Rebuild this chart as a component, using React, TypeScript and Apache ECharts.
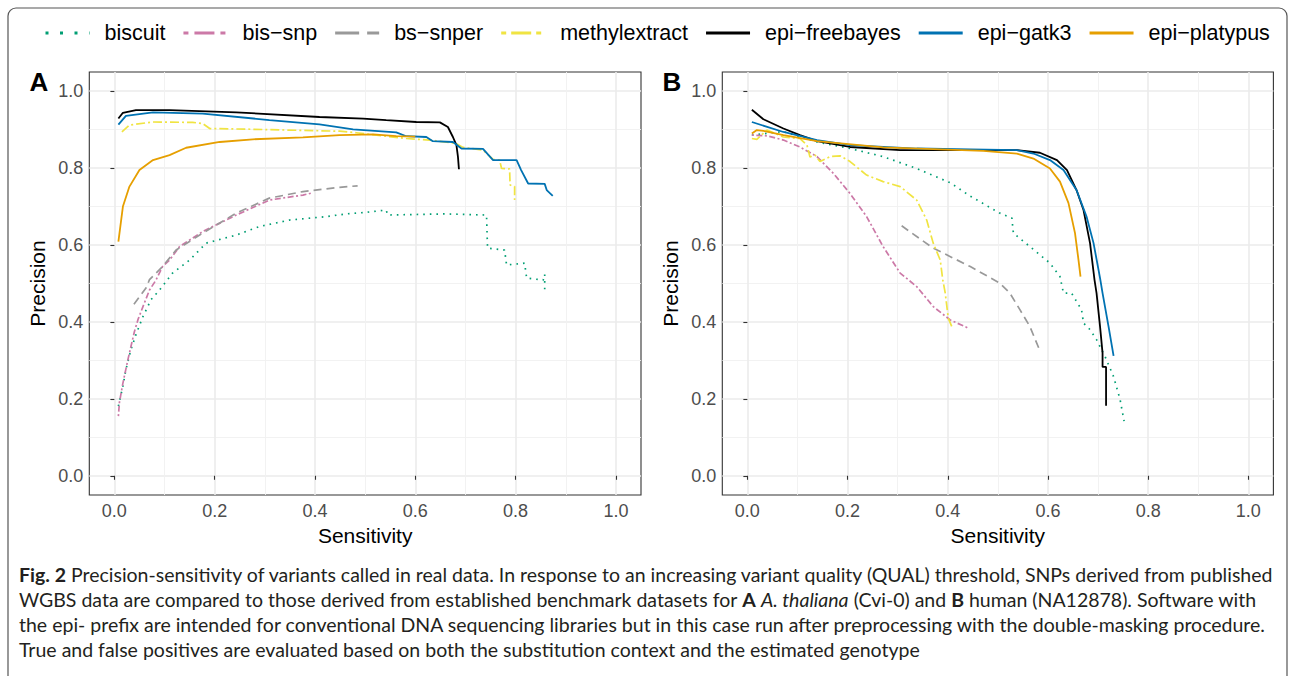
import React, { useEffect, useRef } from 'react';
import * as echarts from 'echarts';

const FONT = '"Liberation Sans", Arial, sans-serif';
const CAP_FONT = 'Lato, "Liberation Sans", sans-serif';

const seriesNames = ['biscuit', 'bis−snp', 'bs−snper', 'methylextract', 'epi−freebayes', 'epi−gatk3', 'epi−platypus'];
const seriesColors = ['#009E73', '#CC79A7', '#999999', '#F0E442', '#000000', '#0072B2', '#E69F00'];
const majorTicks = [0, 0.2, 0.4, 0.6, 0.8, 1.0];
const minorTicks = [0.1, 0.3, 0.5, 0.7, 0.9];

// Panel A (A. thaliana) : [sensitivity, precision]
const A_biscuit = [[0.008,0.181],[0.017,0.233],[0.023,0.276],[0.033,0.328],[0.043,0.367],[0.057,0.414],[0.073,0.458],[0.09,0.483],[0.116,0.527],[0.15,0.561],[0.183,0.605],[0.243,0.626],[0.289,0.648],[0.349,0.665],[0.423,0.674],[0.462,0.681],[0.502,0.685],[0.542,0.691],[0.545,0.678],[0.662,0.681],[0.742,0.678],[0.744,0.592],[0.778,0.587],[0.782,0.548],[0.818,0.553],[0.822,0.514],[0.855,0.509],[0.858,0.524],[0.858,0.482]];
const A_bissnp = [[0.008,0.155],[0.01,0.19],[0.017,0.241],[0.027,0.302],[0.033,0.336],[0.04,0.375],[0.047,0.406],[0.057,0.44],[0.07,0.483],[0.083,0.509],[0.096,0.544],[0.11,0.561],[0.13,0.596],[0.176,0.635],[0.243,0.678],[0.309,0.717],[0.376,0.73],[0.393,0.735]];
const A_bssnper = [[0.039,0.446],[0.063,0.488],[0.07,0.51],[0.096,0.544],[0.123,0.587],[0.176,0.631],[0.243,0.683],[0.309,0.722],[0.376,0.739],[0.449,0.75],[0.485,0.754]];
const A_methyl = [[0.015,0.894],[0.03,0.912],[0.077,0.92],[0.156,0.919],[0.176,0.916],[0.19,0.903],[0.276,0.901],[0.449,0.896],[0.482,0.892],[0.582,0.877],[0.629,0.873],[0.682,0.864],[0.695,0.854],[0.735,0.847],[0.755,0.823],[0.768,0.821],[0.772,0.799],[0.788,0.798],[0.789,0.756],[0.798,0.752],[0.798,0.717]];
const A_freebayes = [[0.008,0.929],[0.017,0.944],[0.043,0.951],[0.11,0.951],[0.243,0.945],[0.409,0.933],[0.496,0.929],[0.542,0.925],[0.602,0.92],[0.649,0.919],[0.665,0.907],[0.675,0.881],[0.682,0.86],[0.685,0.83],[0.687,0.797]];
const A_gatk3 = [[0.008,0.913],[0.023,0.936],[0.077,0.945],[0.176,0.942],[0.309,0.925],[0.409,0.914],[0.476,0.901],[0.562,0.893],[0.582,0.883],[0.622,0.881],[0.635,0.87],[0.675,0.868],[0.692,0.851],[0.735,0.85],[0.755,0.821],[0.802,0.821],[0.811,0.795],[0.825,0.76],[0.858,0.759],[0.862,0.743],[0.874,0.728]];
const A_platypus = [[0.008,0.609],[0.017,0.7],[0.03,0.752],[0.05,0.795],[0.077,0.821],[0.11,0.834],[0.143,0.853],[0.21,0.868],[0.276,0.875],[0.376,0.88],[0.449,0.886],[0.516,0.888],[0.562,0.883],[0.6,0.882]];

// Panel B (human)
const B_biscuit = [[0.009,0.886],[0.072,0.895],[0.139,0.868],[0.205,0.851],[0.271,0.83],[0.338,0.799],[0.405,0.762],[0.445,0.727],[0.504,0.683],[0.528,0.67],[0.531,0.631],[0.564,0.596],[0.604,0.553],[0.624,0.518],[0.631,0.475],[0.647,0.475],[0.667,0.432],[0.671,0.397],[0.684,0.38],[0.697,0.354],[0.714,0.31],[0.731,0.258],[0.744,0.198],[0.752,0.142]];
const B_bissnp = [[0.009,0.886],[0.039,0.884],[0.072,0.873],[0.105,0.855],[0.139,0.83],[0.172,0.786],[0.205,0.734],[0.238,0.674],[0.271,0.596],[0.305,0.527],[0.338,0.492],[0.371,0.44],[0.405,0.405],[0.441,0.384]];
const B_bssnper = [[0.308,0.65],[0.371,0.592],[0.445,0.544],[0.504,0.501],[0.524,0.475],[0.544,0.432],[0.564,0.388],[0.583,0.328]];
const B_methyl = [[0.009,0.877],[0.019,0.875],[0.039,0.899],[0.072,0.881],[0.105,0.877],[0.119,0.86],[0.125,0.829],[0.135,0.834],[0.145,0.817],[0.165,0.83],[0.185,0.832],[0.205,0.817],[0.238,0.782],[0.271,0.765],[0.305,0.752],[0.338,0.717],[0.358,0.665],[0.371,0.605],[0.385,0.561],[0.39,0.51],[0.395,0.475],[0.401,0.41],[0.408,0.388]];
const B_freebayes = [[0.009,0.952],[0.032,0.927],[0.072,0.903],[0.105,0.886],[0.139,0.87],[0.205,0.855],[0.305,0.847],[0.445,0.847],[0.538,0.847],[0.584,0.84],[0.618,0.821],[0.638,0.795],[0.657,0.743],[0.671,0.691],[0.684,0.605],[0.693,0.509],[0.697,0.475],[0.704,0.388],[0.709,0.319],[0.709,0.283],[0.716,0.283],[0.716,0.182]];
const B_gatk3 = [[0.009,0.92],[0.072,0.894],[0.139,0.873],[0.205,0.86],[0.338,0.851],[0.445,0.849],[0.538,0.847],[0.571,0.838],[0.604,0.821],[0.631,0.795],[0.657,0.743],[0.677,0.674],[0.691,0.605],[0.704,0.514],[0.709,0.475],[0.721,0.388],[0.731,0.312]];
const B_platypus = [[0.009,0.89],[0.019,0.899],[0.032,0.897],[0.072,0.886],[0.139,0.87],[0.271,0.854],[0.471,0.845],[0.538,0.838],[0.571,0.825],[0.604,0.799],[0.624,0.765],[0.641,0.709],[0.654,0.631],[0.661,0.561],[0.665,0.518]];

const panelA = [A_biscuit, A_bissnp, A_bssnper, A_methyl, A_freebayes, A_gatk3, A_platypus];
const panelB = [B_biscuit, B_bissnp, B_bssnper, B_methyl, B_freebayes, B_gatk3, B_platypus];

const plotDash: any[] = [[1.6, 5], [2, 2.5, 6, 2.5], [8, 5], [9, 3, 2, 3], 'solid', 'solid', 'solid'];
const legendDash: any[] = [[3, 11.5], [5, 6, 20, 6], [24, 8], [5, 5, 20, 5], 'solid', 'solid', 'solid'];

const captionLines = [
  '{b|Fig. 2} Precision-sensitivity of variants called in real data. In response to an increasing variant quality (QUAL) threshold, SNPs derived from published',
  'WGBS data are compared to those derived from established benchmark datasets for {b|A} {i|A. thaliana} (Cvi-0) and {b|B} human (NA12878). Software with',
  'the epi- prefix are intended for conventional DNA sequencing libraries but in this case run after preprocessing with the double-masking procedure.',
  'True and false positives are evaluated based on both the substitution context and the estimated genotype',
];

function xAxes(gridIndex: number) {
  return [
    {
      type: 'value', gridIndex, min: -0.05, max: 1.05, position: 'bottom',
      name: 'Sensitivity', nameLocation: 'middle', nameGap: 30,
      nameTextStyle: { fontSize: 21, color: '#000', fontFamily: FONT },
      axisLine: { show: false },
      axisTick: { show: true, length: 4, lineStyle: { color: '#333', width: 1.1 }, customValues: majorTicks },
      axisLabel: { customValues: majorTicks, formatter: (v: number) => v.toFixed(1), fontSize: 18, color: '#4D4D4D', margin: 7, fontFamily: FONT },
      splitLine: { show: true, lineStyle: { color: '#EBEBEB', width: 1.6 } },
    },
    {
      type: 'value', gridIndex, min: -0.05, max: 1.05, position: 'top',
      axisLine: { show: false },
      axisTick: { show: false, customValues: minorTicks },
      axisLabel: { show: false, customValues: minorTicks },
      splitLine: { show: true, lineStyle: { color: '#F0F0F0', width: 0.9 } },
    },
  ];
}

function yAxes(gridIndex: number) {
  return [
    {
      type: 'value', gridIndex, min: -0.05, max: 1.05, position: 'left',
      name: 'Precision', nameLocation: 'middle', nameGap: 41,
      nameTextStyle: { fontSize: 21, color: '#000', fontFamily: FONT },
      axisLine: { show: false },
      axisTick: { show: true, length: 4, lineStyle: { color: '#333', width: 1.1 }, customValues: majorTicks },
      axisLabel: { customValues: majorTicks, formatter: (v: number) => v.toFixed(1), fontSize: 18, color: '#4D4D4D', margin: 6, fontFamily: FONT },
      splitLine: { show: true, lineStyle: { color: '#EBEBEB', width: 1.6 } },
    },
    {
      type: 'value', gridIndex, min: -0.05, max: 1.05, position: 'right',
      axisLine: { show: false },
      axisTick: { show: false, customValues: minorTicks },
      axisLabel: { show: false, customValues: minorTicks },
      splitLine: { show: true, lineStyle: { color: '#F0F0F0', width: 0.9 } },
    },
  ];
}

function makeSeries(panel: number[][][], axisIndex: number) {
  return panel.map((data, i) => ({
    type: 'line',
    name: seriesNames[i],
    xAxisIndex: axisIndex,
    yAxisIndex: axisIndex,
    data,
    symbol: 'none',
    showSymbol: false,
    silent: true,
    lineStyle: { color: seriesColors[i], width: i >= 4 ? 1.8 : 1.7, type: plotDash[i] },
    itemStyle: { color: seriesColors[i] },
  }));
}

export default function App() {
  const ref = useRef<HTMLDivElement>(null);
  useEffect(() => {
    if (!ref.current) return;
    const chart = echarts.init(ref.current, null, { renderer: 'svg' });
    const option: any = {
      animation: false,
      backgroundColor: '#ffffff',
      legend: {
        left: 44, top: 22, padding: 0,
        itemWidth: 44, itemHeight: 14, itemGap: 16.5,
        selectedMode: false,
        textStyle: { fontSize: 21.5, color: '#000', fontFamily: FONT, padding: [0, 0, 0, 10] },
        data: seriesNames.map((n, i) => ({
          name: n,
          itemStyle: { color: 'rgba(0,0,0,0)', borderWidth: 0, opacity: 0 },
          lineStyle: { color: seriesColors[i], width: 3, type: legendDash[i], opacity: 1 },
        })),
      },
      grid: [
        { left: 89.3, top: 72, width: 551.7, height: 423, show: true, borderColor: '#333333', borderWidth: 1.1, backgroundColor: 'transparent' },
        { left: 722.3, top: 72, width: 551.1, height: 423, show: true, borderColor: '#333333', borderWidth: 1.1, backgroundColor: 'transparent' },
      ],
      xAxis: [...xAxes(0), ...xAxes(1)],
      yAxis: [...yAxes(0), ...yAxes(1)],
      series: [...makeSeries(panelA, 0), ...makeSeries(panelB, 2)],
      graphic: [
        { type: 'rect', silent: true, shape: { x: 8, y: 8, width: 1279, height: 720, r: 8 }, style: { fill: 'none', stroke: '#555', lineWidth: 1.2 } },
        { type: 'text', x: 39, y: 82, style: { text: 'A', fontSize: 26, fontWeight: 'bold', fontFamily: FONT, fill: '#000', align: 'center', verticalAlign: 'middle' } },
        { type: 'text', x: 672, y: 82, style: { text: 'B', fontSize: 26, fontWeight: 'bold', fontFamily: FONT, fill: '#000', align: 'center', verticalAlign: 'middle' } },
        ...captionLines.map((t, i) => ({
          type: 'text', x: 19, y: 574 + i * 25,
          style: {
            text: t, fontSize: 19.5, fontFamily: CAP_FONT, fill: '#231F20', verticalAlign: 'middle',
            rich: {
              b: { fontSize: 19.5, fontFamily: CAP_FONT, fontWeight: 'bold', fill: '#231F20' },
              i: { fontSize: 19.5, fontFamily: CAP_FONT, fontStyle: 'italic', fill: '#231F20' },
            },
          },
        })),
      ],
    };
    chart.setOption(option);
    return () => chart.dispose();
  }, []);
  return <div ref={ref} style={{ position: 'fixed', left: 0, top: 0, width: 1293, height: 676, background: '#fff' }} />;
}
